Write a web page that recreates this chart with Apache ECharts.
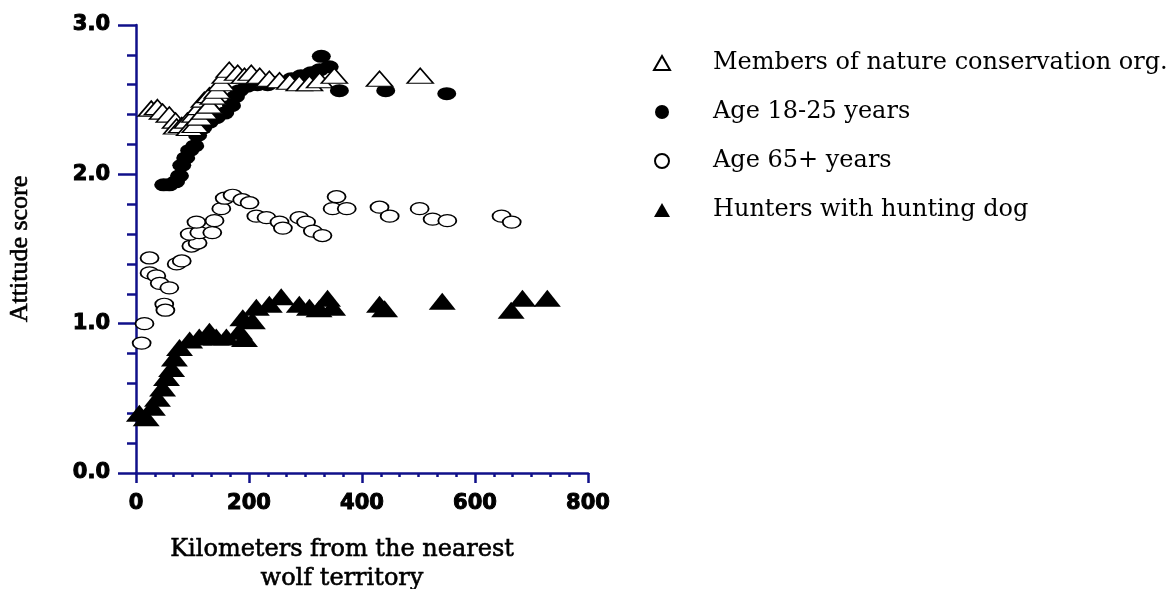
<!DOCTYPE html>
<html>
<head>
<meta charset="utf-8">
<script src="https://cdn.jsdelivr.net/npm/echarts@6/dist/echarts.min.js"></script>
<style>
  html, body { margin: 0; padding: 0; background: #fff; }
  #main { width: 1173px; height: 589px; }
</style>
</head>
<body>
<div id="main"></div>
<script>
// series names (legend order)
var seriesNames = ['Members of nature conservation org.', 'Age 18-25 years', 'Age 65+ years', 'Hunters with hunting dog'];

// Members of nature conservation org. (open triangles)
var membersX = [27, 38, 47, 59, 70, 72, 81, 91, 95, 104, 105, 112, 113, 121, 121, 130, 130, 137, 144, 151, 158, 165, 180, 192, 204, 219, 236, 254, 272, 289, 307, 325, 351, 431, 503];
var membersY = [2.44, 2.45, 2.42, 2.40, 2.36, 2.32, 2.33, 2.36, 2.31, 2.40, 2.33, 2.38, 2.45, 2.42, 2.50, 2.46, 2.53, 2.52, 2.56, 2.61, 2.66, 2.70, 2.68, 2.66, 2.68, 2.66, 2.64, 2.63, 2.62, 2.61, 2.61, 2.63, 2.66, 2.64, 2.66];

// Age 18-25 years (filled circles)
var youngX = [49, 59, 70, 77, 81, 88, 95, 104, 109, 118, 130, 142, 157, 169, 176, 183, 197, 215, 233, 254, 275, 292, 310, 325, 328, 342, 360, 442, 550];
var youngY = [1.93, 1.93, 1.95, 1.99, 2.06, 2.11, 2.16, 2.19, 2.26, 2.31, 2.35, 2.38, 2.41, 2.46, 2.52, 2.56, 2.59, 2.60, 2.60, 2.62, 2.64, 2.66, 2.68, 2.70, 2.79, 2.72, 2.56, 2.56, 2.54];

// Age 65+ years (open circles)
var oldX = [10, 15, 24, 24, 36, 42, 59, 50, 52, 72, 81, 98, 109, 95, 112, 135, 107, 139, 151, 157, 171, 188, 201, 213, 231, 254, 260, 289, 301, 313, 330, 355, 348, 373, 431, 449, 502, 525, 551, 647, 665];
var oldY = [0.87, 1.00, 1.44, 1.34, 1.32, 1.27, 1.24, 1.13, 1.09, 1.40, 1.42, 1.52, 1.54, 1.60, 1.61, 1.61, 1.68, 1.69, 1.77, 1.84, 1.86, 1.83, 1.81, 1.72, 1.71, 1.68, 1.64, 1.71, 1.68, 1.62, 1.59, 1.85, 1.77, 1.77, 1.78, 1.72, 1.77, 1.70, 1.69, 1.72, 1.68];

// Hunters with hunting dog (filled triangles)
var huntersX = [6, 18, 29, 38, 47, 54, 63, 68, 77, 95, 112, 130, 142, 160, 183, 192, 189, 206, 213, 236, 257, 289, 307, 324, 339, 348, 431, 440, 542, 664, 684, 728];
var huntersY = [0.40, 0.37, 0.44, 0.50, 0.57, 0.64, 0.70, 0.77, 0.84, 0.89, 0.91, 0.95, 0.91, 0.91, 0.95, 0.90, 1.04, 1.02, 1.11, 1.13, 1.18, 1.13, 1.11, 1.10, 1.17, 1.11, 1.13, 1.10, 1.15, 1.09, 1.17, 1.17];

function pairs(xs, ys) {
    return xs.map(function (x, i) { return [x, ys[i]]; });
}

var navy = '#10108a';
var serif = 'DejaVu Serif';
var chart = echarts.init(document.getElementById('main'));

chart.setOption({
    animation: false,
    backgroundColor: '#fff',
    grid: { left: 136, right: 585, top: 25, bottom: 116, outerBoundsMode: 'none' },
    legend: {
        orient: 'vertical',
        left: 648,
        top: 46,
        itemWidth: 16,
        itemHeight: 14,
        itemGap: 25,
        data: seriesNames,
        textStyle: { fontFamily: serif, fontSize: 24, color: '#000', lineHeight: 24, padding: [0, 0, 0, 38] }
    },
    xAxis: {
        type: 'value',
        min: 0, max: 800, interval: 200,
        name: 'Kilometers from the nearest\nwolf territory',
        nameLocation: 'middle',
        nameGap: 62,
        nameTextStyle: {
            fontFamily: serif, fontSize: 24, color: '#000', lineHeight: 29, padding: [0, 40, 0, 0],
            textBorderColor: '#000', textBorderWidth: 0.6
        },
        axisLine: { lineStyle: { color: navy, width: 2.5 } },
        axisTick: { length: 10, lineStyle: { color: navy, width: 2.5 } },
        minorTick: { show: true, splitNumber: 6, length: 4, lineStyle: { color: navy, width: 2.5 } },
        axisLabel: {
            margin: 20, color: '#000', fontFamily: 'DejaVu Sans', fontWeight: 'bold', fontSize: 21,
            textBorderColor: '#000', textBorderWidth: 1
        },
        splitLine: { show: false }
    },
    yAxis: {
        type: 'value',
        min: 0, max: 3, interval: 1,
        name: 'Attitude score',
        nameLocation: 'middle',
        nameGap: 103,
        nameTextStyle: {
            fontFamily: 'Liberation Serif', fontSize: 26, color: '#000',
            textBorderColor: '#000', textBorderWidth: 0.6
        },
        axisLine: { show: true, lineStyle: { color: navy, width: 2.5 } },
        axisTick: { show: true, length: 18, lineStyle: { color: navy, width: 2.5 } },
        minorTick: { show: true, splitNumber: 5, length: 9, lineStyle: { color: navy, width: 2.5 } },
        axisLabel: {
            margin: 26, color: '#000', fontFamily: 'DejaVu Sans', fontWeight: 'bold', fontSize: 21,
            textBorderColor: '#000', textBorderWidth: 1,
            formatter: function (v) { return v.toFixed(1); }
        },
        splitLine: { show: false }
    },
    series: [
        {
            name: seriesNames[1], type: 'scatter', symbol: 'circle', symbolSize: [19, 13],
            itemStyle: { color: '#000', opacity: 1 },
            data: pairs(youngX, youngY)
        },
        {
            name: seriesNames[0], type: 'scatter', symbol: 'triangle', symbolSize: [26, 15],
            itemStyle: { color: '#fff', borderColor: '#000', borderWidth: 1.5, opacity: 1 },
            data: pairs(membersX, membersY)
        },
        {
            name: seriesNames[2], type: 'scatter', symbol: 'circle', symbolSize: [18, 12],
            itemStyle: { color: '#fff', borderColor: '#000', borderWidth: 1.5, opacity: 1 },
            data: pairs(oldX, oldY)
        },
        {
            name: seriesNames[3], type: 'scatter', symbol: 'triangle', symbolSize: [27, 17],
            itemStyle: { color: '#000', opacity: 1 },
            data: pairs(huntersX, huntersY)
        }
    ]
});
</script>
</body>
</html>
